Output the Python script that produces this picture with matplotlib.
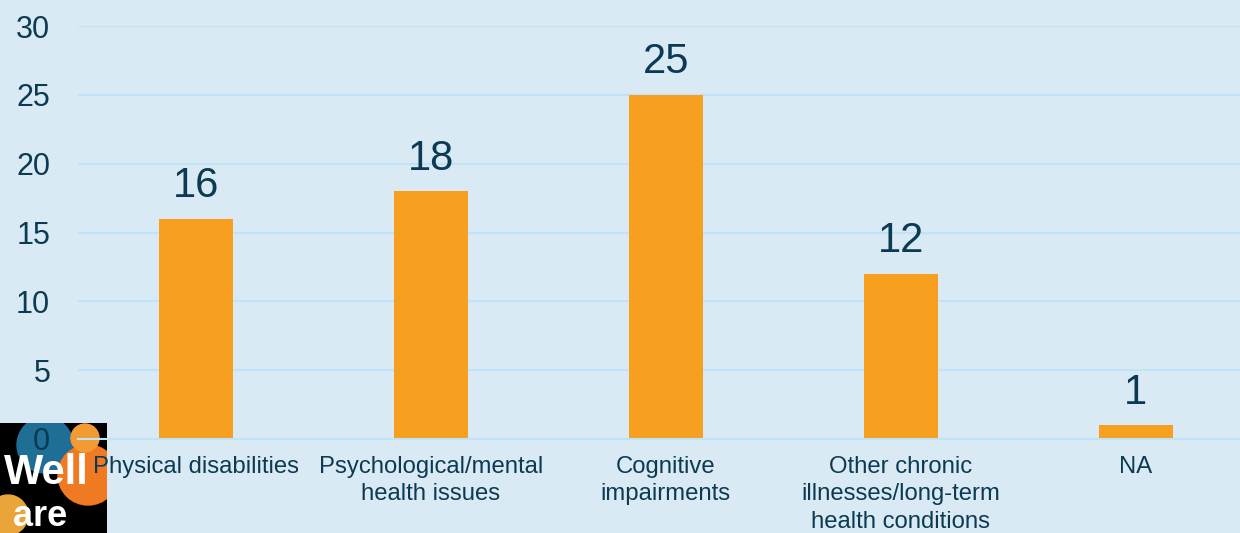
import matplotlib
matplotlib.use("Agg")
import matplotlib.pyplot as plt
from matplotlib.patches import Circle

categories = [
    "Physical disabilities",
    "Psychological/mental\nhealth issues",
    "Cognitive\nimpairments",
    "Other chronic\nillnesses/long-term\nhealth conditions",
    "NA",
]
counts = [16, 18, 25, 12, 1]
yticks = [0, 5, 10, 15, 20, 25, 30]

BG = "#DAEAF4"
GRID = "#BDE4F8"
BAR = "#F79F1F"
TEXT = "#0B3A52"

plt.rcParams["font.family"] = ["Liberation Sans", "DejaVu Sans"]

fig = plt.figure(figsize=(12.4, 5.33), dpi=100, facecolor=BG)

# logo stand-in, bottom left, drawn behind the chart texts
logo = fig.add_axes([0, 0, 107 / 1240, 110 / 533], zorder=0)
logo.set_xlim(0, 107)
logo.set_ylim(0, 110)
logo.set_facecolor("black")
logo.set_xticks([])
logo.set_yticks([])
for s in logo.spines.values():
    s.set_visible(False)
logo.add_patch(Circle((45, 88), 28, color="#1F6E95"))
logo.add_patch(Circle((88, 58), 30, color="#F07A22"))
logo.add_patch(Circle((85, 95), 14, color="#F39A33"))
logo.add_patch(Circle((8, 18), 20, color="#E9A43A"))
logo.text(46, 60, "Well", color="white", fontsize=30, fontweight="bold",
          ha="center", va="center")
logo.text(40, 16, "are", color="white", fontsize=26, fontweight="bold",
          ha="center", va="center")

ax = fig.add_axes([78 / 1240, (533 - 439) / 533, (1240 - 78) / 1240, 413 / 533],
                  zorder=1)
ax.patch.set_visible(False)

x = list(range(len(categories)))
bars = ax.bar(x, counts, width=0.315, color=BAR, zorder=2)

for xi, v in zip(x, counts):
    ax.annotate(str(v), (xi, v), xytext=(0, 9), textcoords="offset points",
                ha="center", va="bottom", fontsize=30, color=TEXT)

ax.set_ylim(0, 30)
ax.set_xlim(-0.502, 4.443)
ax.set_yticks(yticks)
ax.set_xticks(x)
ax.set_xticklabels(categories, fontsize=17.2, color=TEXT, linespacing=1.33)
ax.tick_params(axis="y", labelsize=22, labelcolor=TEXT, length=0, pad=20)
ax.tick_params(axis="x", length=0, pad=12)

ax.grid(axis="y", color=GRID, linewidth=1.5, zorder=0)
ax.set_axisbelow(True)
for name, s in ax.spines.items():
    if name == "bottom":
        s.set_color(GRID)
        s.set_linewidth(1.5)
    else:
        s.set_visible(False)

fig.savefig("out.png", dpi=100, facecolor=BG)
